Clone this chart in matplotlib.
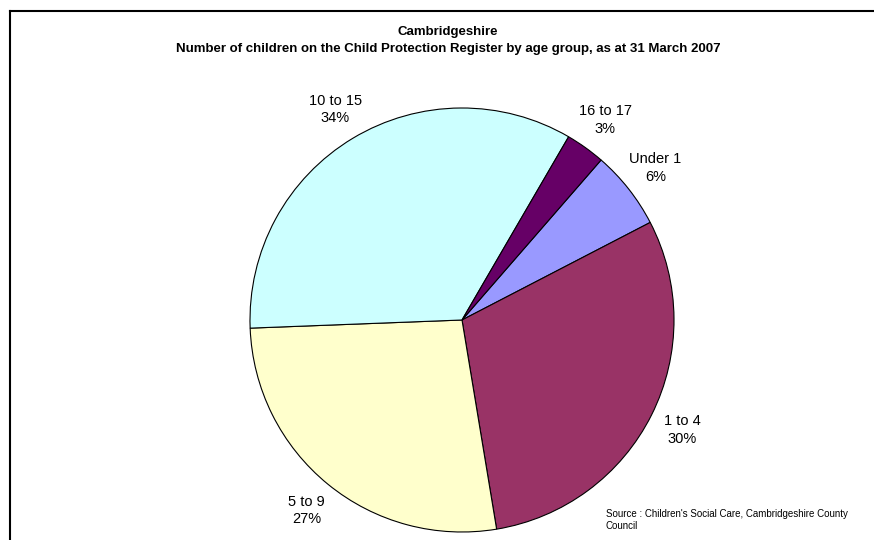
import matplotlib.pyplot as plt
from matplotlib.lines import Line2D

# data (percentages)
groups = ["Under 1", "1 to 4", "5 to 9", "10 to 15", "16 to 17"]
pcts = [6, 30, 27, 34, 3]
cols = ["#9999FF", "#993366", "#FFFFCC", "#CCFFFF", "#660066"]

plt.rcParams['font.family'] = ['Liberation Sans', 'DejaVu Sans']

W, H = 874, 540
fig = plt.figure(figsize=(W / 100, H / 100), dpi=100)

# pie centre / radius in pixels
cx, cy, r = 462, 320, 212
ax = fig.add_axes([(cx - r) / W, (H - cy - r) / H, 2 * r / W, 2 * r / H])

labels = [g + "\n" + str(p) + "%" for g, p in zip(groups, pcts)]
wedges, texts = ax.pie(pcts, labels=labels, colors=cols, startangle=49, counterclock=False,
                       labeldistance=1.16, radius=1,
                       wedgeprops=dict(edgecolor="black", linewidth=0.8))
for t in texts:
    t.set_ha("center")
    t.set_va("center")
    t.set_fontsize(10.5)
    t.set_linespacing(1.3)
ax.set_xlim(-1, 1)
ax.set_ylim(-1, 1)
ax.set_aspect("equal")
ax.axis("off")

# chart frame (left + top edges visible)
fig.add_artist(Line2D([9.5 / W, 9.5 / W], [0, 1 - 10.5 / H], color="black", lw=1.5,
                      transform=fig.transFigure))
fig.add_artist(Line2D([9.5 / W, 1], [1 - 10.5 / H, 1 - 10.5 / H], color="black", lw=1.5,
                      transform=fig.transFigure))

fig.text(448 / W, 1 - 32 / H, "Cambridgeshire", ha="center", va="center",
         fontsize=9.5, fontweight="bold")
fig.text(448 / W, 1 - 49 / H,
         "Number of children on the Child Protection Register by age group, as at 31 March 2007",
         ha="center", va="center", fontsize=9.5, fontweight="bold")

fig.text(606 / W, 1 - 520 / H, "Source : Children's Social Care, Cambridgeshire County\nCouncil",
         ha="left", va="center", fontsize=7, linespacing=1.25)

fig.savefig("out.png", dpi=100)
